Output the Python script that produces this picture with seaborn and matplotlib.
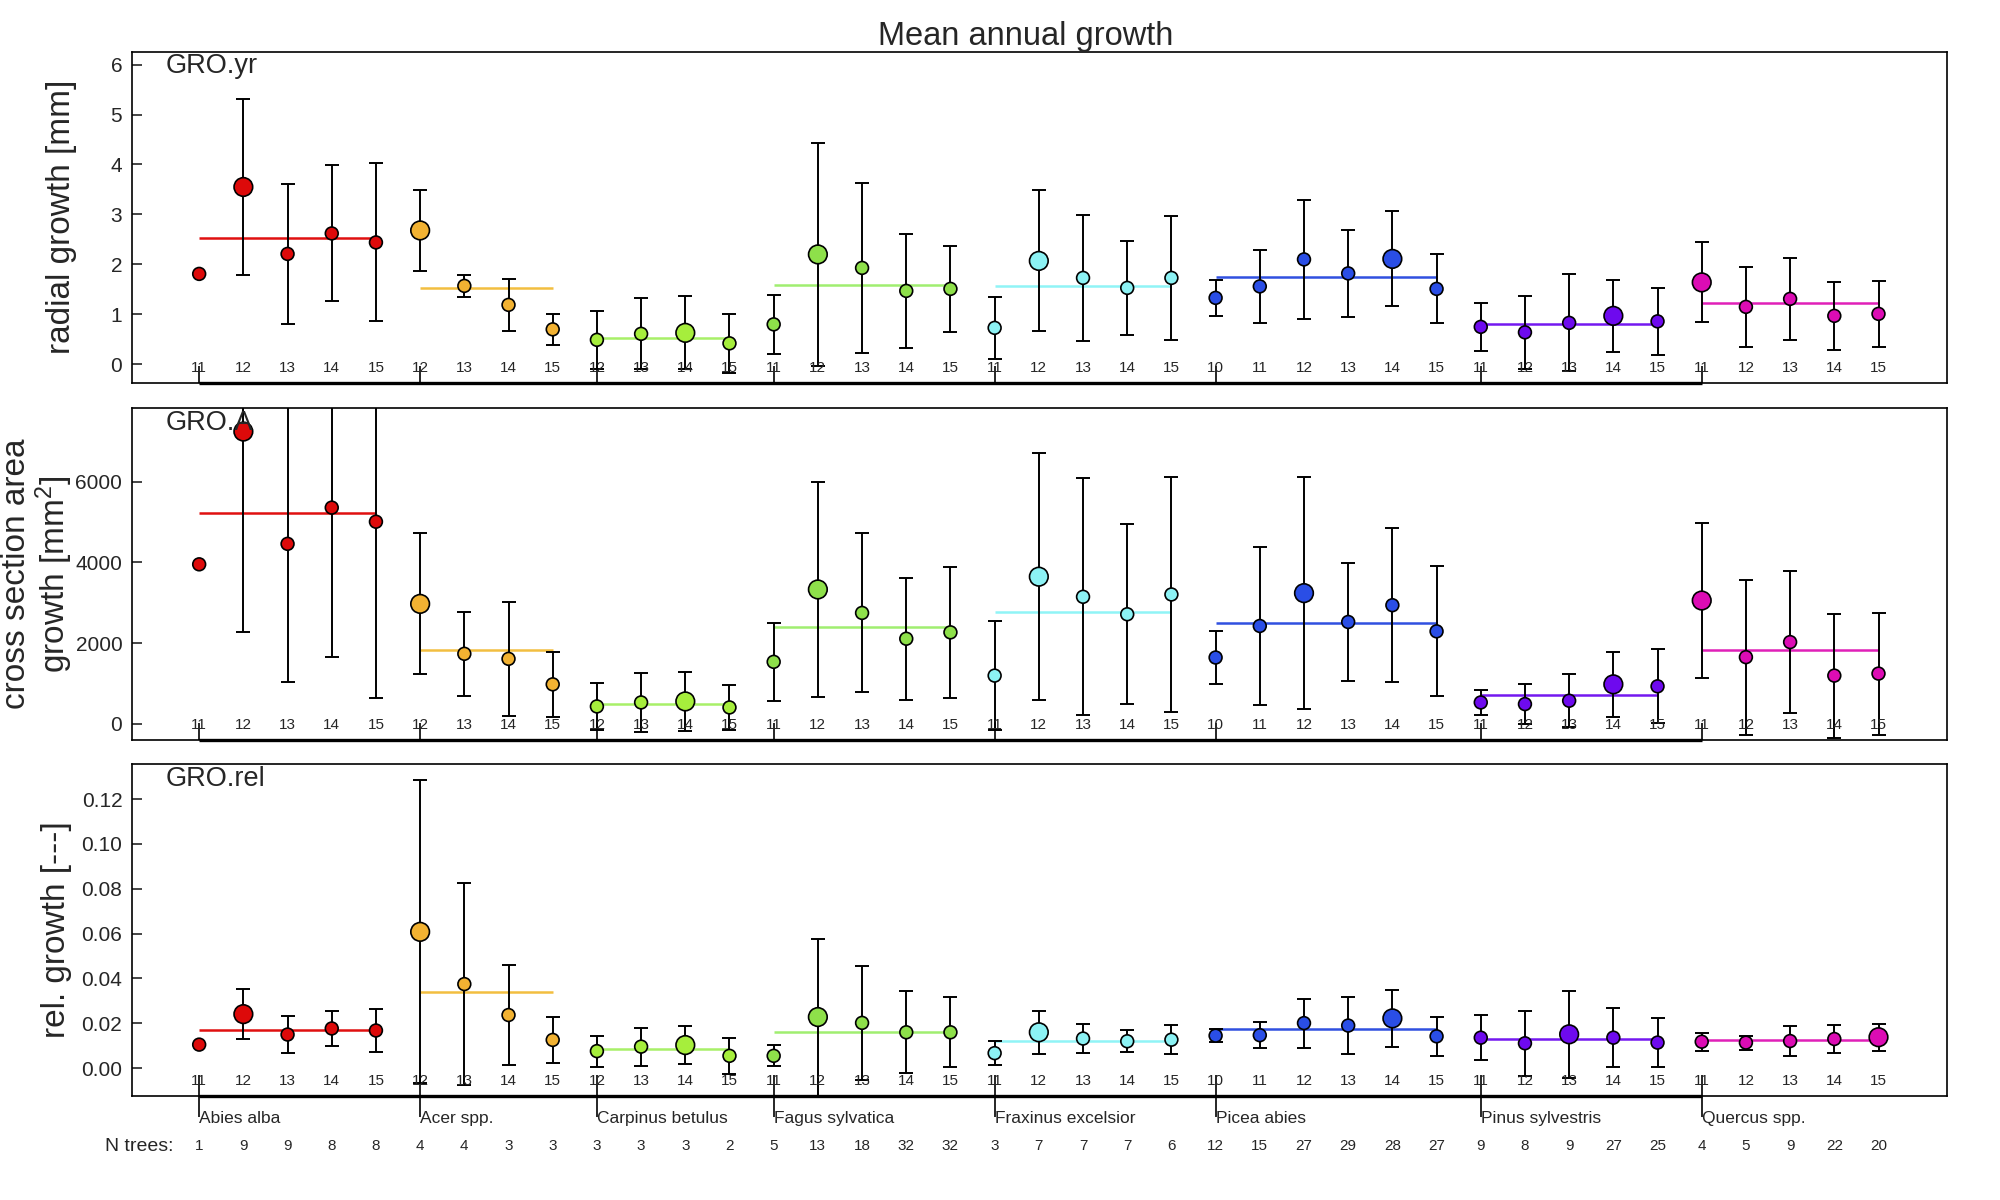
import numpy as np
import pandas as pd
import matplotlib
matplotlib.use("Agg")
import matplotlib.pyplot as plt
import matplotlib.transforms as mtrans
import seaborn as sns

# ---- data ----
species = ["Abies alba", "Acer spp.", "Carpinus betulus", "Fagus sylvatica",
           "Fraxinus excelsior", "Picea abies", "Pinus sylvestris", "Quercus spp."]
years = [
    [11, 12, 13, 14, 15],
    [12, 13, 14, 15],
    [12, 13, 14, 15],
    [11, 12, 13, 14, 15],
    [11, 12, 13, 14, 15],
    [10, 11, 12, 13, 14, 15],
    [11, 12, 13, 14, 15],
    [11, 12, 13, 14, 15],
]
n_trees = [1, 9, 9, 8, 8, 4, 4, 3, 3, 3, 3, 3, 2, 5, 13, 18, 32, 32, 3, 7, 7, 7, 6,
           12, 15, 27, 29, 28, 27, 9, 8, 9, 27, 25, 4, 5, 9, 22, 20]
colors = ["#DD0A0A", "#F2B232", "#A6EE3C", "#8EE04A", "#8CF2F4", "#2A4EE6", "#6E0AEE", "#DC0CB4"]
line_colors = ["#E01010", "#F2BE40", "#A8F068", "#A0EE70", "#90F4F6", "#3050E0", "#7418F0", "#E020B8"]

# GRO.yr  radial growth [mm]
yr_mean = [1.81, 3.55, 2.21, 2.62, 2.44, 2.68, 1.57, 1.19, 0.70, 0.49, 0.61, 0.63, 0.42,
           0.80, 2.20, 1.93, 1.47, 1.51, 0.73, 2.07, 1.73, 1.53, 1.73,
           1.33, 1.56, 2.10, 1.82, 2.11, 1.51, 0.75, 0.64, 0.83, 0.97, 0.86,
           1.64, 1.15, 1.31, 0.97, 1.01]
yr_sd = [np.nan, 1.77, 1.40, 1.36, 1.58, 0.81, 0.22, 0.52, 0.31, 0.58, 0.71, 0.73, 0.59,
         0.59, 2.24, 1.70, 1.14, 0.86, 0.62, 1.41, 1.26, 0.94, 1.24,
         0.36, 0.73, 1.19, 0.87, 0.95, 0.69, 0.48, 0.73, 0.97, 0.72, 0.67,
         0.80, 0.80, 0.82, 0.68, 0.66]
yr_group = [2.53, 1.53, 0.53, 1.59, 1.56, 1.75, 0.81, 1.22]

# GRO.A  cross section area growth [mm2]
A_mean = [3950, 7237, 4457, 5354, 5005, 2971, 1735, 1610, 979, 432, 531, 556, 407,
          1536, 3328, 2747, 2108, 2266, 1195, 3644, 3146, 2714, 3204,
          1643, 2424, 3237, 2523, 2938, 2291, 531, 490, 573, 979, 930,
          3054, 1652, 2025, 1195, 1245]
A_sd = [np.nan, 4955, 3428, 3702, 4374, 1743, 1046, 1411, 805, 581, 722, 722, 548,
        971, 2665, 1967, 1511, 1618, 1345, 3054, 2938, 2233, 2905,
        656, 1950, 2872, 1469, 1909, 1610, 307, 489, 655, 806, 913,
        1909, 1917, 1760, 1536, 1511]
A_group = [5212, 1834, 481, 2390, 2781, 2507, 706, 1834]

# GRO.rel  relative growth [-]
rel_mean = [0.0105, 0.0241, 0.0150, 0.0177, 0.0168, 0.0608, 0.0375, 0.0237, 0.0126,
            0.0076, 0.0096, 0.0103, 0.0055, 0.0055, 0.0228, 0.0202, 0.0160, 0.0160,
            0.0067, 0.0160, 0.0132, 0.0120, 0.0127,
            0.0145, 0.0147, 0.0201, 0.0190, 0.0222, 0.0142,
            0.0136, 0.0111, 0.0151, 0.0136, 0.0114,
            0.0118, 0.0114, 0.0121, 0.0130, 0.0138]
rel_sd = [np.nan, 0.0111, 0.0084, 0.0078, 0.0097, 0.0676, 0.0449, 0.0223, 0.0103,
          0.0069, 0.0085, 0.0086, 0.0080, 0.0047, 0.0350, 0.0253, 0.0183, 0.0156,
          0.0054, 0.0095, 0.0066, 0.0049, 0.0066,
          0.0030, 0.0057, 0.0109, 0.0129, 0.0126, 0.0087,
          0.0101, 0.0144, 0.0195, 0.0132, 0.0108,
          0.0041, 0.0031, 0.0068, 0.0063, 0.0060]
rel_group = [0.0169, 0.0339, 0.0084, 0.0162, 0.0121, 0.0175, 0.0132, 0.0124]

# ---- build long table ----
sp_col, yr_col = [], []
for s, ys in zip(species, years):
    sp_col += [s] * len(ys)
    yr_col += ys
df = pd.DataFrame({"species": sp_col, "year": yr_col, "n": n_trees})
df["x"] = np.arange(len(df))
starts = df.groupby("species", sort=False)["x"].min().tolist()
ends = df.groupby("species", sort=False)["x"].max().tolist()

panels = [
    ("GRO.yr", yr_mean, yr_sd, yr_group, "radial growth [mm]", (-0.37, 6.26), np.arange(0, 7, 1), "{:.0f}"),
    ("GRO.A", A_mean, A_sd, A_group, "cross section area\ngrowth [mm$^2$]", (-400, 7820), [0, 2000, 4000, 6000], "{:.0f}"),
    ("GRO.rel", rel_mean, rel_sd, rel_group, "rel. growth [---]", (-0.0124, 0.1357), np.arange(0, 0.13, 0.02), "{:.2f}"),
]

sns.set_style("white")
plt.rcParams["font.family"] = ["Liberation Sans", "DejaVu Sans"]
plt.rcParams["mathtext.default"] = "regular"

fig = plt.figure(figsize=(20, 12), dpi=100)
pal = dict(zip(species, colors))
ax_boxes = [(0.066, 0.681, 0.9075, 0.276), (0.066, 0.3833, 0.9075, 0.2767), (0.066, 0.0867, 0.9075, 0.2767)]
label_x = [62 / 2000, 38 / 2000, 56 / 2000]

for k, (name, mean, sd, gmean, ylab, ylim, yticks, fmt) in enumerate(panels):
    ax = fig.add_axes(ax_boxes[k])
    d = df.copy()
    d["value"] = mean
    d["sd"] = sd
    d["big"] = d.groupby("species")["value"].transform("max") == d["value"]

    # error bars (mean +- sd)
    e = d.dropna(subset=["sd"])
    ax.errorbar(e["x"], e["value"], yerr=e["sd"], fmt="none", ecolor="black",
                elinewidth=1.4, capsize=5, capthick=1.4, zorder=2)
    # group mean lines
    ax.hlines(gmean, starts, ends, colors=line_colors, linewidth=1.8, zorder=1.5)
    # points
    sns.scatterplot(data=d, x="x", y="value", hue="species", palette=pal,
                    size="big", sizes={False: 85, True: 180}, edgecolor="black",
                    linewidth=1.2, legend=False, zorder=3, ax=ax)

    ax.set_xlim(-1.52, 39.55)
    ax.set_ylim(*ylim)
    ax.set_yticks(yticks)
    ax.set_yticklabels([fmt.format(v) for v in yticks])
    ax.set_xticks(starts)
    ax.set_xticklabels([])
    ax.set_xlabel("")
    ax.set_ylabel("")
    ax.tick_params(axis="y", direction="in", length=7, width=1.2, labelsize=15, pad=7, left=True)
    if k < 2:
        ax.tick_params(axis="x", direction="in", length=12, width=1.4, bottom=True)
    else:
        ax.tick_params(axis="x", direction="inout", length=30, width=1.4, bottom=True)
    for sp in ax.spines.values():
        sp.set_linewidth(1.2)
        sp.set_color("black")

    trans = mtrans.blended_transform_factory(ax.transData, ax.transAxes)
    # thick axis line between first and last group tick
    ax.plot([starts[0], starts[-1]], [0, 0], transform=trans, color="black",
            linewidth=2.4, clip_on=False, zorder=6, solid_capstyle="butt")
    # year labels inside the box
    for x, yv in zip(df["x"], df["year"]):
        ax.text(x, 0.045, str(yv), transform=trans, ha="center", va="center", fontsize=11)
    ax.text(0.0187, 0.995, name, transform=ax.transAxes, ha="left", va="top", fontsize=19.5)

    fig.text(label_x[k], ax_boxes[k][1] + ax_boxes[k][3] / 2, ylab, rotation=90,
             ha="center", va="center", fontsize=24, linespacing=1.05)

    if k == 2:
        for s, x0 in zip(species, starts):
            ax.text(x0, -0.069, s, transform=trans, ha="left", va="center", fontsize=12.5)
        for x, n in zip(df["x"], df["n"]):
            ax.text(x, -0.151, str(n), transform=trans, ha="center", va="center", fontsize=11)
        ax.text(-0.59, -0.151, "N trees:", transform=trans, ha="right", va="center", fontsize=14)

fig.text(1026 / 2000, 1 - 37 / 1200, "Mean annual growth", ha="center", va="center", fontsize=23.5)

fig.savefig("out.png", dpi=100)
